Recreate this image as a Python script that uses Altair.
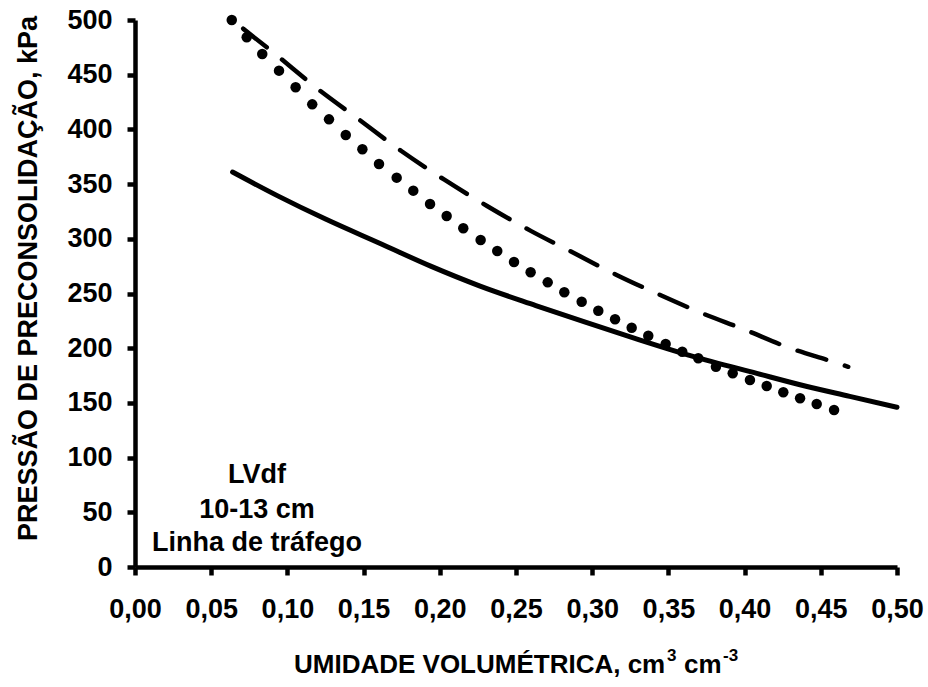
import altair as alt
import pandas as pd

# ---- data ----
solid_x = [0.064, 0.094, 0.125, 0.162, 0.194, 0.226, 0.263, 0.295, 0.328, 0.365, 0.408, 0.441, 0.469, 0.500]
solid_y = [361, 339, 318, 295, 275, 257, 239, 224, 209, 193, 177, 165, 156, 146]

dash_x = [0.071, 0.091, 0.119, 0.147, 0.175, 0.203, 0.231, 0.260, 0.288, 0.316, 0.344, 0.372, 0.400, 0.428, 0.457, 0.468]
dash_y = [492, 470, 438, 409, 380, 354, 330, 307, 287, 267, 249, 232, 217, 201, 188, 183]

dot_x = [0.0635, 0.0733, 0.0835, 0.0945, 0.1054, 0.1163, 0.1273, 0.1383, 0.1492, 0.1601,
         0.1717, 0.1826, 0.1936, 0.2045, 0.2154, 0.2268, 0.2377, 0.2487, 0.2596, 0.2708,
         0.2817, 0.2931, 0.3040, 0.3150, 0.3259, 0.3368, 0.3482, 0.3591, 0.3696, 0.3812,
         0.3922, 0.4035, 0.4145, 0.4254, 0.4364, 0.4473, 0.4587]
dot_y = [500.0, 484.2, 468.9, 453.7, 438.5, 422.9, 409.2, 394.9, 381.8, 368.4,
         355.9, 344.0, 331.8, 320.8, 309.6, 298.9, 288.8, 278.8, 269.4, 260.2,
         251.1, 242.5, 234.3, 226.4, 218.7, 211.4, 203.8, 196.8, 190.8, 183.1,
         177.1, 170.9, 165.4, 159.7, 154.2, 149.0, 143.5]

x_ticks = [0.0, 0.05, 0.10, 0.15, 0.20, 0.25, 0.30, 0.35, 0.40, 0.45, 0.50]
y_ticks = [0, 50, 100, 150, 200, 250, 300, 350, 400, 450, 500]

note_lines = ["LVdf", "10-13 cm", "Linha de tráfego"]
x_title_main = "UMIDADE VOLUMÉTRICA, cm"
x_title_sup1 = "3"
x_title_mid = "cm"
x_title_sup2 = "-3"
y_title = "PRESSÃO DE PRECONSOLIDAÇÃO, kPa"

FONT = "Liberation Sans"

solid_df = pd.DataFrame({"x": solid_x, "y": solid_y})
dash_df = pd.DataFrame({"x": dash_x, "y": dash_y})
dot_df = pd.DataFrame({"x": dot_x, "y": dot_y})

xscale = alt.Scale(domain=[0, 0.5], nice=False, zero=False)
yscale = alt.Scale(domain=[0, 500], nice=False)

xaxis = alt.Axis(values=x_ticks, format=".2f", labelExpr="replace(datum.label, '.', ',')",
                 title=None, grid=False, domainColor="black", domainWidth=4.5,
                 tickColor="black", tickWidth=4.5, tickSize=8, labelPadding=21,
                 labelFlush=False, labelOverlap=False,
                 labelFont=FONT, labelFontSize=27, labelFontWeight="bold", labelColor="black")
yaxis = alt.Axis(values=y_ticks, format="d", title=y_title, grid=False,
                 domainColor="black", domainWidth=4.5, tickColor="black", tickWidth=4.5,
                 tickSize=8, labelPadding=15, labelFlush=False, labelOverlap=False,
                 labelFont=FONT, labelFontSize=27,
                 labelFontWeight="bold", labelColor="black",
                 titleFont=FONT, titleFontSize=27, titleFontWeight="bold", titleColor="black",
                 titleAngle=-90, titleX=-107, titleY=258, titleAlign="center",
                 titleBaseline="middle")

solid = alt.Chart(solid_df).mark_line(color="black", strokeWidth=5, strokeCap="round",
                                      interpolate="monotone").encode(
    x=alt.X("x:Q", scale=xscale, axis=xaxis),
    y=alt.Y("y:Q", scale=yscale, axis=yaxis),
)

dashed = alt.Chart(dash_df).mark_line(color="black", strokeWidth=4.5, strokeCap="round",
                                      strokeDash=[30, 19.6], interpolate="monotone").encode(
    x=alt.X("x:Q", scale=xscale),
    y=alt.Y("y:Q", scale=yscale),
)

dots = alt.Chart(dot_df).mark_circle(color="black", size=110, opacity=1).encode(
    x=alt.X("x:Q", scale=xscale),
    y=alt.Y("y:Q", scale=yscale),
)

layers = [solid, dashed, dots]

note_base = [463, 498, 531]
for txt, yy in zip(note_lines, note_base):
    layers.append(
        alt.Chart(pd.DataFrame({"t": [txt]})).mark_text(
            font=FONT, fontSize=27, fontWeight="bold", color="black",
            align="center", baseline="alphabetic").encode(
            x=alt.value(122), y=alt.value(yy), text="t:N")
    )

# x-axis title with superscripts
title_parts = [
    (x_title_main, 159, 653, 26, "left"),
    (x_title_sup1, 532, 641, 17, "left"),
    (x_title_mid, 549, 653, 26, "left"),
    (x_title_sup2, 588, 641, 17, "left"),
]
for txt, xx, yy, fs, al in title_parts:
    layers.append(
        alt.Chart(pd.DataFrame({"t": [txt]})).mark_text(
            font=FONT, fontSize=fs, fontWeight="bold", color="black",
            align=al, baseline="alphabetic").encode(
            x=alt.value(xx), y=alt.value(yy), text="t:N")
    )

chart = alt.layer(*layers).properties(
    width=762, height=547,
    autosize=alt.AutoSizeParams(type="none"),
    padding={"left": 135, "top": 20, "right": 31, "bottom": 120},
    background="white",
).configure_view(stroke=None)

chart.save("out.html", embed_options={"renderer": "svg", "actions": False})
